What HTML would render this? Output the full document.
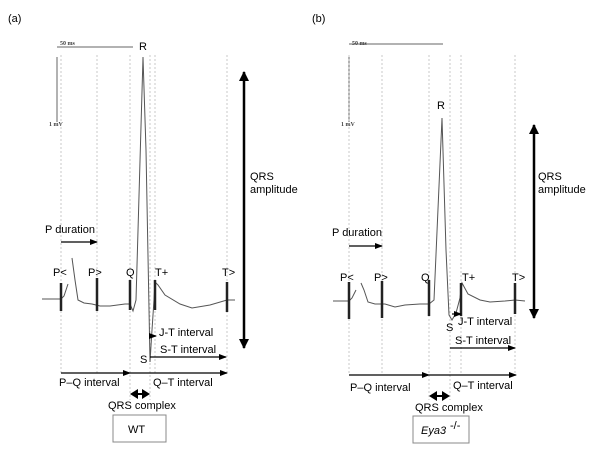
<!DOCTYPE html>
<html><head><meta charset="utf-8"><style>
html,body{margin:0;padding:0;background:#fff;}
svg{display:block;font-family:"Liberation Sans",Arial,sans-serif;}
.d{stroke:#bbb;stroke-width:0.8;stroke-dasharray:2,2;fill:none}
.t{stroke:#555;stroke-width:1;fill:none}
.k{stroke:#222;stroke-width:2.5}
.a{stroke:#000;stroke-width:1.2;fill:none}
text{font-size:11px;fill:#000}
.s{font-family:"Liberation Serif",serif;font-size:6px;font-weight:bold;fill:#444}
</style></head><body>
<svg width="600" height="450" viewBox="0 0 600 450">
<defs>
<marker id="m" markerWidth="8" markerHeight="8" refX="7" refY="4" orient="auto" markerUnits="userSpaceOnUse"><path d="M0,1 L8,4 L0,7 z" fill="#000"/></marker>
<marker id="mb" markerWidth="10" markerHeight="10" refX="9" refY="5" orient="auto-start-reverse" markerUnits="userSpaceOnUse"><path d="M0,0 L10,5 L0,10 z" fill="#000"/></marker>
</defs>
<!-- Panel a -->
<text x="8" y="22" font-size="13">(a)</text>
<line x1="57" y1="47" x2="133" y2="47" stroke="#666"/>
<text class="s" x="60" y="45">50 ms</text>
<line x1="57" y1="57" x2="57" y2="122" stroke="#666"/>
<text class="s" x="49" y="126">1 mV</text>
<g class="d"><line x1="61" y1="55" x2="61" y2="375"/><line x1="97" y1="55" x2="97" y2="375"/><line x1="130" y1="55" x2="130" y2="400"/><line x1="150" y1="55" x2="150" y2="400"/><line x1="155" y1="55" x2="155" y2="375"/><line x1="227" y1="55" x2="227" y2="375"/></g>
<text x="139" y="50" font-size="12">R</text>
<polyline class="t" points="42,299 61,299 64,296 68,284"/>
<polyline class="t" points="72,258 75,280 78,300 84,303 92,304 100,306 110,306 125,304 130,304 133,311 136,300 143,57 146,150 150,362 152,330 154,300 155,282 158,285 165,295 180,304 192,308 210,305 227,300 235,300"/>
<g class="k"><line x1="61" y1="283" x2="61" y2="311"/><line x1="97" y1="278" x2="97" y2="311"/><line x1="130" y1="280" x2="130" y2="310"/><line x1="155" y1="280" x2="155" y2="310"/><line x1="227" y1="282" x2="227" y2="312"/></g>
<text x="53" y="276">P&lt;</text><text x="88" y="276">P&gt;</text><text x="126" y="276">Q</text><text x="155" y="276">T+</text><text x="222" y="276">T&gt;</text>
<line x1="244" y1="72" x2="244" y2="348" stroke="#000" stroke-width="2.5" marker-start="url(#mb)" marker-end="url(#mb)"/>
<text x="250" y="180">QRS</text><text x="250" y="193">amplitude</text>
<text x="45" y="233">P duration</text>
<line class="a" x1="61" y1="242" x2="97" y2="242" marker-end="url(#m)"/>
<line class="a" x1="149" y1="336" x2="156" y2="336" marker-end="url(#m)"/>
<text x="159" y="336">J-T interval</text>
<text x="160" y="353">S-T interval</text>
<line class="a" x1="150" y1="357" x2="226" y2="357" marker-end="url(#m)"/>
<text x="140" y="363">S</text>
<line class="a" x1="61" y1="373" x2="130" y2="373" marker-end="url(#m)"/>
<line class="a" x1="130" y1="373" x2="227" y2="373" marker-end="url(#m)"/>
<text x="59" y="386">P–Q interval</text><text x="153" y="386">Q–T interval</text>
<polygon points="130,394 138,389 138,393 142,393 142,389 150,394 142,399 142,395 138,395 138,399" fill="#000"/>
<text x="108" y="409">QRS complex</text>
<rect x="113" y="415" width="53" height="27" fill="none" stroke="#888"/>
<text x="128" y="433" font-size="12">WT</text>
<!-- Panel b -->
<text x="312" y="22" font-size="13">(b)</text>
<line x1="349" y1="44" x2="443" y2="44" stroke="#666"/>
<text class="s" x="352" y="45">50 ms</text>
<line x1="349" y1="57" x2="349" y2="122" stroke="#666"/>
<text class="s" x="341" y="126">1 mV</text>
<g class="d"><line x1="349" y1="55" x2="349" y2="375"/><line x1="382" y1="55" x2="382" y2="375"/><line x1="429" y1="55" x2="429" y2="400"/><line x1="450" y1="55" x2="450" y2="400"/><line x1="461" y1="55" x2="461" y2="375"/><line x1="515" y1="55" x2="515" y2="375"/></g>
<text x="437" y="109" font-size="12">R</text>
<polyline class="t" points="333,301 349,301 352,298 356,290"/>
<polyline class="t" points="361,283 364,290 368,302 375,304 385,304 395,307 405,305 420,304 429,304 434,300 442,118 446,250 449,315 452,320 456,313 460,298 462,283 468,294 480,300 490,302 505,301 515,300 525,301"/>
<g class="k"><line x1="349" y1="282" x2="349" y2="319"/><line x1="382" y1="281" x2="382" y2="318"/><line x1="429" y1="280" x2="429" y2="316"/><line x1="461" y1="283" x2="461" y2="316"/><line x1="515" y1="283" x2="515" y2="314"/></g>
<text x="340" y="281">P&lt;</text><text x="374" y="281">P&gt;</text><text x="421" y="281">Q</text><text x="462" y="281">T+</text><text x="512" y="281">T&gt;</text>
<line x1="534" y1="125" x2="534" y2="318" stroke="#000" stroke-width="2.5" marker-start="url(#mb)" marker-end="url(#mb)"/>
<text x="538" y="180">QRS</text><text x="538" y="193">amplitude</text>
<text x="332" y="236">P duration</text>
<line class="a" x1="349" y1="246" x2="382" y2="246" marker-end="url(#m)"/>
<line class="a" x1="452" y1="314" x2="461" y2="314" marker-end="url(#m)"/>
<text x="458" y="325">J-T interval</text>
<text x="446" y="331">S</text>
<text x="455" y="344">S-T interval</text>
<line class="a" x1="450" y1="348" x2="515" y2="348" marker-end="url(#m)"/>
<line class="a" x1="349" y1="375" x2="429" y2="375" marker-end="url(#m)"/>
<line class="a" x1="429" y1="375" x2="516" y2="375" marker-end="url(#m)"/>
<text x="350" y="391">P–Q interval</text><text x="453" y="389">Q–T interval</text>
<polygon points="429,396 437,391 437,395 442,395 442,391 450,396 442,401 442,397 437,397 437,401" fill="#000"/>
<text x="415" y="411">QRS complex</text>
<rect x="413" y="416" width="56" height="27" fill="none" stroke="#888"/>
<text x="421" y="434" font-size="12" font-style="italic">Eya3</text>
<text x="450" y="429" font-size="7">-/-</text>
</svg>
</body></html>
